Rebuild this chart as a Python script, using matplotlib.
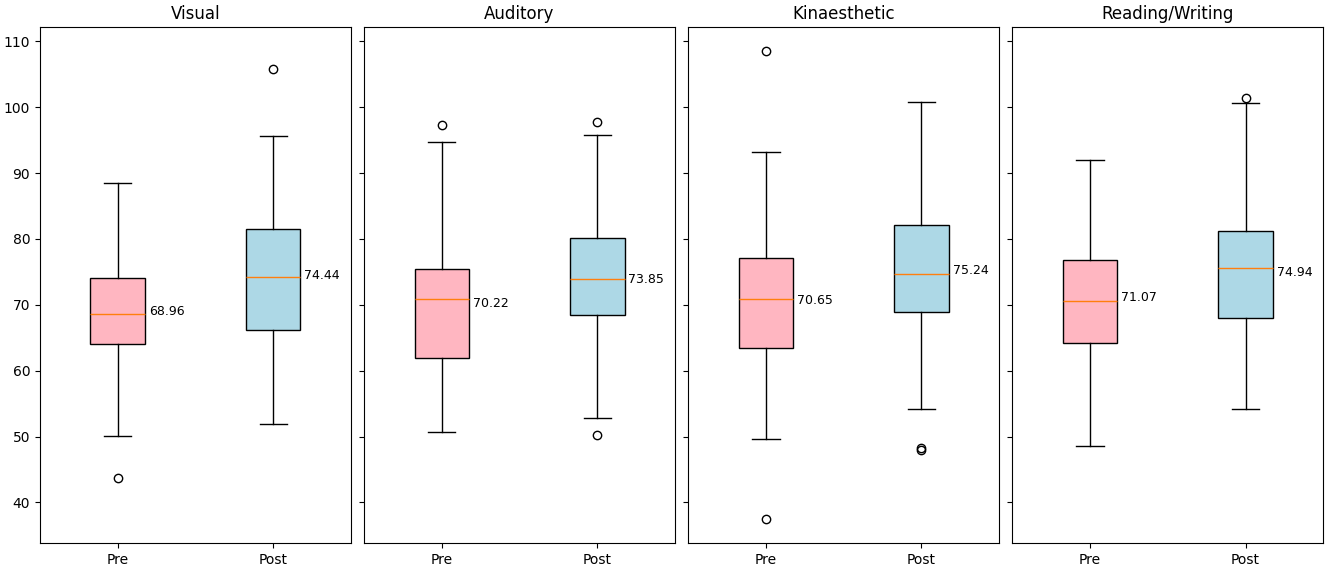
import matplotlib
matplotlib.use("Agg")
import matplotlib.pyplot as plt

# === Values ===
styles = ["Visual", "Auditory", "Kinaesthetic", "Reading/Writing"]
phases = ["Pre", "Post"]

# per style: [pre, post]
whislo = [[50.1, 51.9], [50.75, 52.83], [49.65, 54.25], [48.61, 54.14]]
q1 = [[64.0, 66.13], [61.92, 68.5], [63.5, 68.87], [64.27, 67.94]]
med = [[68.65, 74.24], [70.84, 73.86], [70.95, 74.62], [70.57, 75.66]]
q3 = [[74.07, 81.52], [75.4, 80.1], [77.03, 82.18], [76.87, 81.14]]
whishi = [[88.53, 95.6], [94.67, 95.71], [93.24, 100.85], [91.93, 100.69]]
fliers = [[[43.74], [105.84]],
          [[97.3], [97.68, 50.2]],
          [[108.58, 37.44], [48.23, 48.0]],
          [[], [101.4]]]
means = [[68.96, 74.44], [70.22, 73.85], [70.65, 75.24], [71.07, 74.94]]

colors = ["lightpink", "lightblue"]

fig, axes = plt.subplots(1, 4, figsize=(13.3, 5.66), dpi=100, sharey=True)

for i, ax in enumerate(axes):
    stats = []
    for j in range(2):
        stats.append({
            "whislo": whislo[i][j], "q1": q1[i][j], "med": med[i][j],
            "q3": q3[i][j], "whishi": whishi[i][j], "fliers": fliers[i][j],
            "mean": means[i][j], "label": phases[j],
        })
    bp = ax.bxp(stats, positions=[1, 2], widths=0.35, patch_artist=True)
    for patch, c in zip(bp["boxes"], colors):
        patch.set_facecolor(c)
    for j, m in enumerate(means[i]):
        ax.text(j + 1 + 0.2, m, f"{m:.2f}", ha="left", va="center", fontsize=9)
    ax.set_title(styles[i])

plt.subplots_adjust(left=0.03, right=0.995, bottom=0.041, top=0.952, wspace=0.042)
plt.savefig("out.png")
